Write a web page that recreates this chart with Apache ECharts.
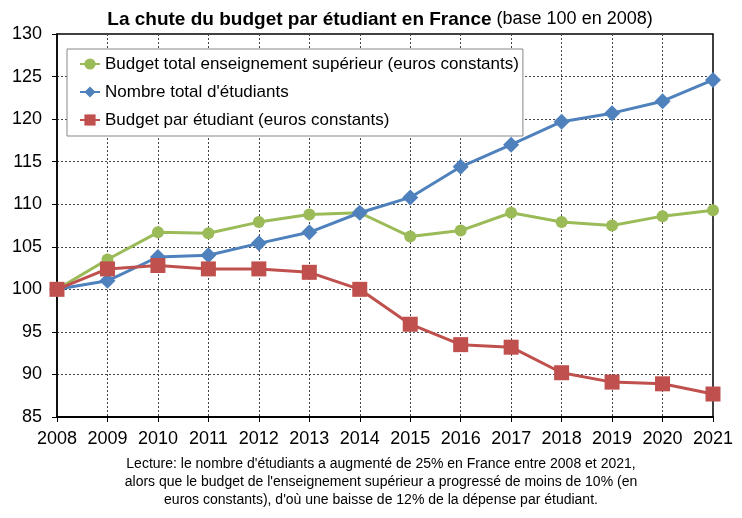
<!DOCTYPE html>
<html>
<head>
<meta charset="utf-8">
<script src="https://cdn.jsdelivr.net/npm/echarts@6/dist/echarts.min.js"></script>
<style>
  html, body { margin: 0; padding: 0; background: #fff; }
  #chart { width: 742px; height: 518px; }
</style>
</head>
<body>
<div id="chart"></div>
<script>
var years = ['2008', '2009', '2010', '2011', '2012', '2013', '2014', '2015', '2016', '2017', '2018', '2019', '2020', '2021'];
var budgetTotal = [100, 103.5, 106.7, 106.6, 107.9, 108.8, 109.0, 106.2, 106.9, 109.0, 107.9, 107.5, 108.6, 109.3];
var nbEtudiants = [100, 101.0, 103.8, 104.0, 105.4, 106.7, 109.0, 110.8, 114.4, 117.0, 119.7, 120.7, 122.1, 124.6];
var budgetParEtudiant = [100, 102.4, 102.8, 102.4, 102.4, 102.0, 100.0, 95.9, 93.5, 93.2, 90.2, 89.1, 88.9, 87.7];

var font = 'Liberation Sans, Arial, sans-serif';

var myChart = echarts.init(document.getElementById('chart'));
var option = {
    animation: false,
    textStyle: { fontFamily: font },
    title: [
        {
            text: '{b|La chute du budget par étudiant en France} {n|(base 100 en 2008)}',
            left: 380,
            textAlign: 'center',
            top: 10,
            padding: 0,
            textStyle: {
                rich: {
                    b: { fontFamily: font, fontWeight: 'bold', fontSize: 19, color: '#000' },
                    n: { fontFamily: font, fontWeight: 'normal', fontSize: 18, color: '#000' }
                }
            }
        },
        {
            text: "Lecture: le nombre d'étudiants a augmenté de 25% en France entre 2008 et 2021,\nalors que le budget de l'enseignement supérieur a progressé de moins de 10% (en\neuros constants), d'où une baisse de 12% de la dépense par étudiant.",
            left: 381,
            textAlign: 'center',
            top: 455,
            padding: 0,
            textStyle: { fontFamily: font, fontSize: 14, fontWeight: 'normal', color: '#000', lineHeight: 18 }
        }
    ],
    legend: {
        orient: 'vertical',
        left: 67,
        top: 49,
        padding: [5, 4, 6, 12],
        itemGap: 8,
        itemWidth: 20,
        itemHeight: 14,
        backgroundColor: '#fff',
        borderColor: '#888',
        borderWidth: 1,
        textStyle: { fontFamily: font, fontSize: 17, color: '#000', lineHeight: 20 },
        data: ['Budget total enseignement supérieur (euros constants)', "Nombre total d'étudiants", 'Budget par étudiant (euros constants)']
    },
    grid: {
        left: 57,
        right: 29,
        top: 34,
        bottom: 101,
        show: true,
        borderColor: '#000',
        borderWidth: 1.5
    },
    xAxis: {
        type: 'category',
        data: years,
        boundaryGap: false,
        axisLine: { lineStyle: { color: '#000', width: 2 } },
        axisTick: { show: true, interval: 0, length: 5, lineStyle: { color: '#000' } },
        axisLabel: { interval: 0, color: '#000', fontSize: 18, fontFamily: font, margin: 13 },
        splitLine: { show: true, interval: 0, lineStyle: { color: '#444', type: [2, 2], width: 1 } }
    },
    yAxis: {
        type: 'value',
        min: 85,
        max: 130,
        interval: 5,
        axisLine: { show: true, lineStyle: { color: '#000', width: 1.5 } },
        axisTick: { show: true, length: 5, lineStyle: { color: '#000' } },
        axisLabel: { color: '#000', fontSize: 18, fontFamily: font, margin: 15 },
        splitLine: { show: true, lineStyle: { color: '#444', type: [2, 2], width: 1 } }
    },
    series: [
        {
            name: 'Budget total enseignement supérieur (euros constants)',
            type: 'line',
            data: budgetTotal,
            symbol: 'circle',
            symbolSize: 12,
            itemStyle: { color: '#9BBB59' },
            lineStyle: { color: '#9BBB59', width: 3 },
            z: 2
        },
        {
            name: "Nombre total d'étudiants",
            type: 'line',
            data: nbEtudiants,
            symbol: 'diamond',
            symbolSize: 16,
            itemStyle: { color: '#4F81BD' },
            lineStyle: { color: '#4F81BD', width: 3 },
            z: 3
        },
        {
            name: 'Budget par étudiant (euros constants)',
            type: 'line',
            data: budgetParEtudiant,
            symbol: 'rect',
            symbolSize: 15,
            itemStyle: { color: '#C0504D' },
            lineStyle: { color: '#C0504D', width: 3 },
            z: 4
        }
    ]
};
myChart.setOption(option);
</script>
</body>
</html>
